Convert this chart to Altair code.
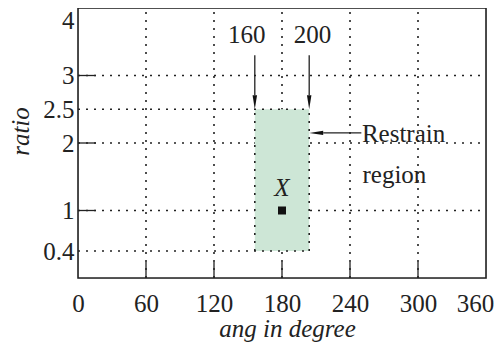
import altair as alt
import pandas as pd

FONT = "Liberation Serif"
FS = 25

x_ticks = [0, 60, 120, 180, 240, 300, 360]
y_ticks = [0.4, 1, 2, 2.5, 3, 4]
grid_x = [60, 120, 180, 240, 300]
grid_y = [1, 2, 3]
tick_x = [60, 120, 180, 240, 300]
tick_y = [1, 2, 3]

region_x = [156, 204]
region_y = [0.4, 2.5]
point_x = [180]
point_y = [1]

arrow_down_x = [156, 204]
arrow_down_top = 3.3
arrow_left_y = 2.15
arrow_left_start = 250

labels_top = ["160", "200"]
labels_top_x = [149, 207]
labels_top_y = [3.6, 3.6]

W, H = 408, 270
XS = alt.Scale(domain=[0, 360], nice=False, zero=False)
YS = alt.Scale(domain=[0, 4], nice=False, zero=False)
px_per_x = W / 360
px_per_y = H / 4

dash = [2, 6]
INK = "#222"

grid_v = pd.DataFrame({"x": grid_x, "y": [0] * len(grid_x), "y2": [4] * len(grid_x)})
grid_h = pd.DataFrame({"y": grid_y, "x": [0] * len(grid_y), "x2": [360] * len(grid_y)})
part_h = pd.DataFrame({"y": region_y, "x": [0, 0], "x2": [region_x[1]] * 2})
edge_v = pd.DataFrame({"x": region_x, "y": [region_y[0]] * 2, "y2": [region_y[1]] * 2})
region = pd.DataFrame({"x": [region_x[0]], "x2": [region_x[1]], "y": [region_y[0]], "y2": [region_y[1]]})
frame = pd.DataFrame({"x": [0], "x2": [360], "y": [0], "y2": [4]})

ticks_x = pd.DataFrame({"x": tick_x, "y": [0] * len(tick_x), "y2": [16 / px_per_y] * len(tick_x)})
ticks_y = pd.DataFrame({"y": tick_y, "x": [0] * len(tick_y), "x2": [18 / px_per_x] * len(tick_y)})

xaxis = alt.Axis(
    values=x_ticks, title="ang in degree", labelFont=FONT, labelFontSize=FS,
    labelColor=INK, titleFont=FONT, titleFontSize=FS, titleFontStyle="italic",
    titleFontWeight="normal", titleColor=INK, ticks=False, domain=False, grid=False,
    labelPadding=13, labelFlush=False, labelOverlap=False, format="d",
    titleX=209, titleY=58, titleBaseline="alphabetic",
    labelOffset=alt.condition("datum.value == 360", alt.value(-11), alt.value(0)))
yaxis = alt.Axis(
    values=y_ticks, title="ratio", labelFont=FONT, labelFontSize=FS,
    labelColor=INK, titleFont=FONT, titleFontSize=FS, titleFontStyle="italic",
    titleFontWeight="normal", titleColor=INK, ticks=False, domain=False, grid=False,
    labelPadding=4, labelOverlap=False, labelFlush=False, format="~g",
    titleX=-50, titleY=123, titleBaseline="alphabetic", titleAngle=270,
    labelBaseline=alt.condition("datum.value == 4", alt.value("top"), alt.value("middle")))

gv = alt.Chart(grid_v).mark_rule(color=INK, strokeWidth=1.6, strokeDash=dash).encode(
    x=alt.X("x:Q", scale=XS, axis=xaxis), y=alt.Y("y:Q", scale=YS, axis=yaxis), y2="y2:Q")
gh = alt.Chart(grid_h).mark_rule(color=INK, strokeWidth=1.6, strokeDash=dash).encode(
    x=alt.X("x:Q", scale=XS), x2="x2:Q", y=alt.Y("y:Q", scale=YS))
rect = alt.Chart(region).mark_rect(color="#cde6d6", opacity=1).encode(
    x=alt.X("x:Q", scale=XS), x2="x2:Q", y=alt.Y("y:Q", scale=YS), y2="y2:Q")
ph = alt.Chart(part_h).mark_rule(color=INK, strokeWidth=1.6, strokeDash=dash).encode(
    x=alt.X("x:Q", scale=XS), x2="x2:Q", y=alt.Y("y:Q", scale=YS))
ev = alt.Chart(edge_v).mark_rule(color=INK, strokeWidth=1.6, strokeDash=dash).encode(
    x=alt.X("x:Q", scale=XS), y=alt.Y("y:Q", scale=YS), y2="y2:Q")
tx = alt.Chart(ticks_x).mark_rule(color=INK, strokeWidth=1.3).encode(
    x=alt.X("x:Q", scale=XS), y=alt.Y("y:Q", scale=YS), y2="y2:Q")
ty = alt.Chart(ticks_y).mark_rule(color=INK, strokeWidth=1.3).encode(
    x=alt.X("x:Q", scale=XS), x2="x2:Q", y=alt.Y("y:Q", scale=YS))
fr = alt.Chart(frame).mark_rect(filled=False, stroke=INK, strokeWidth=1.6, fillOpacity=0).encode(
    x=alt.X("x:Q", scale=XS), x2="x2:Q", y=alt.Y("y:Q", scale=YS), y2="y2:Q")

head = 14
down_df = pd.DataFrame({
    "x": arrow_down_x,
    "y": [arrow_down_top] * 2,
    "y2": [region_y[1] + head / px_per_y] * 2,
    "yh": [region_y[1] + (head / 2) / px_per_y] * 2,
})
shaft_d = alt.Chart(down_df).mark_rule(color=INK, strokeWidth=1.3).encode(
    x=alt.X("x:Q", scale=XS), y=alt.Y("y:Q", scale=YS), y2="y2:Q")
head_d = alt.Chart(down_df).mark_point(
    shape="M -0.32 -1 L 0.32 -1 L 0 1 Z", size=head * head, filled=True, color="#111", opacity=1
).encode(x=alt.X("x:Q", scale=XS), y=alt.Y("yh:Q", scale=YS))

left_df = pd.DataFrame({
    "x": [arrow_left_start], "x2": [region_x[1] + head / px_per_x],
    "xh": [region_x[1] + (head / 2) / px_per_x], "y": [arrow_left_y],
})
shaft_l = alt.Chart(left_df).mark_rule(color=INK, strokeWidth=1.3).encode(
    x=alt.X("x:Q", scale=XS), x2="x2:Q", y=alt.Y("y:Q", scale=YS))
head_l = alt.Chart(left_df).mark_point(
    shape="M 1 -0.32 L 1 0.32 L -1 0 Z", size=head * head, filled=True, color="#111", opacity=1
).encode(x=alt.X("xh:Q", scale=XS), y=alt.Y("y:Q", scale=YS))

top_txt = pd.DataFrame({"x": labels_top_x, "y": labels_top_y, "t": labels_top})
t_top = alt.Chart(top_txt).mark_text(font=FONT, fontSize=FS, color=INK, baseline="middle").encode(
    x=alt.X("x:Q", scale=XS), y=alt.Y("y:Q", scale=YS), text="t:N")
rr_txt = pd.DataFrame({"x": [250.5, 251], "y": [2.13, 1.52], "t": ["Restrain", "region"]})
t_rr = alt.Chart(rr_txt).mark_text(font=FONT, fontSize=FS, color=INK, align="left", baseline="middle").encode(
    x=alt.X("x:Q", scale=XS), y=alt.Y("y:Q", scale=YS), text="t:N")
x_txt = pd.DataFrame({"x": point_x, "y": [1.33], "t": ["X"]})
t_x = alt.Chart(x_txt).mark_text(font=FONT, fontSize=FS, fontStyle="italic", color=INK, baseline="middle").encode(
    x=alt.X("x:Q", scale=XS), y=alt.Y("y:Q", scale=YS), text="t:N")
pt = alt.Chart(pd.DataFrame({"x": point_x, "y": point_y})).mark_point(
    shape="square", size=64, filled=True, color="#111", opacity=1).encode(
    x=alt.X("x:Q", scale=XS), y=alt.Y("y:Q", scale=YS))

chart = alt.layer(gv, gh, rect, ph, ev, tx, ty, fr, shaft_d, head_d, shaft_l, head_l,
                  t_top, t_rr, t_x, pt).properties(
    width=W, height=H,
    autosize=alt.AutoSizeParams(type="none"),
    padding={"left": 70, "top": 0, "right": 8, "bottom": 65},
).configure_view(stroke=None).configure(background="white")

chart.save("out.html", embed_options={"renderer": "svg", "actions": False})
